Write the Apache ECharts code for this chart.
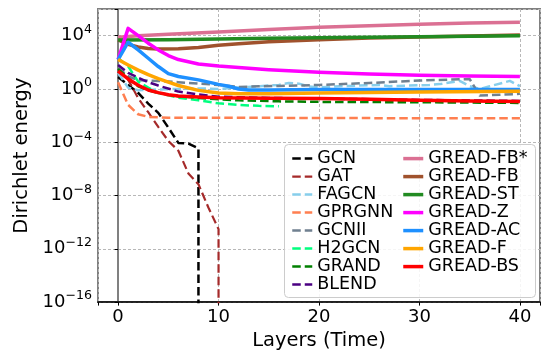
<!DOCTYPE html>
<html><head><meta charset="utf-8">
<script src="https://cdn.jsdelivr.net/npm/echarts@6/dist/echarts.min.js"></script>
<style>html,body{margin:0;padding:0;background:#fff}#c{width:543px;height:356px}</style>
</head><body><div id="c"></div>
<script>
// Dirichlet energy per layer, [layer, energy]; 1e-40 marks energy collapsing to zero
const GCN = [[0,8],[1,2],[2,0.5],[3,8e-2],[4,1.6e-2],[5,1.26e-3],[6,8.9e-5],[7,7.9e-5],[8,3.5e-5],[8,1e-40]];
const GAT = [[0,25],[1,5],[2,0.2],[3,1.8e-2],[4,1.4e-3],[5,1.26e-4],[6,2.3e-5],[7,4.5e-7],[8,7e-8],[9,1.2e-9],[10,3e-11],[10,1e-40]];
const FAGCN = [[0,16],[1,1.26],[2,0.8],[4,0.9],[6,1.0],[8,1.1],[10,1.0],[12,1.26],[14,1.6],[16,2.0],[17,2.8],[18,2.5],[19,1.5],[20,1.3],[22,1.6],[24,1.8],[26,2.0],[27,1.6],[29,1.8],[31,2.0],[32,2.3],[34,4.0],[35,1.6],[36,1.0],[37,1.6],[39,4.0],[40,1.6]];
const GPRGNN = [[0,3.2],[1,6.3e-2],[2,1.26e-2],[3,8e-3],[5,7e-3],[10,7e-3],[20,6.6e-3],[30,6.3e-3],[40,6.3e-3]];
const GCNII = [[0,40],[1,8.9],[2,4.5],[4,4.0],[6,3.2],[8,2.5],[10,2.0],[12,1.4],[14,1.6],[16,1.66],[20,2.0],[25,2.8],[30,4.3],[35,5.5],[36,0.32],[38,0.36],[40,0.43]];
const H2GCN = [[0,200],[1,50],[2,3.5],[3,1.26],[4,0.5],[6,0.22],[8,0.14],[10,8.3e-2],[12,6.3e-2],[14,5.4e-2],[16,5e-2]];
const GRAND = [[0,32],[1,6.3],[2,1.6],[3,0.8],[4,0.5],[6,0.28],[8,0.21],[10,0.166],[12,0.14],[16,0.117],[20,0.107],[30,0.1],[40,8.9e-2]];
const BLEND = [[0,63],[1,16],[2,7],[3,3.2],[4,1.8],[6,0.63],[8,0.38],[10,0.26],[15,0.21],[20,0.19],[30,0.15],[40,0.126]];
const GREAD_FBs = [[0,7.6e3],[2,1e4],[5,1.26e4],[10,1.9e4],[15,2.95e4],[20,4.2e4],[25,5.6e4],[30,7.1e4],[35,8.9e4],[40,1e5]];
const GREAD_FB = [[0,4.8e3],[1,2.2e3],[2,1.4e3],[3,1.1e3],[4,1e3],[6,1.05e3],[8,1.3e3],[10,1.9e3],[12,2.5e3],[15,3.5e3],[20,5e3],[25,6.6e3],[30,7.9e3],[35,9.3e3],[40,1.1e4]];
const GREAD_ST = [[0,4.8e3],[5,5e3],[10,5.6e3],[15,6.3e3],[20,6.9e3],[25,7.6e3],[30,8.3e3],[35,9.1e3],[40,1e4]];
const GREAD_Z = [[0,160],[1,3.5e4],[2,1e4],[3,2.7e3],[4,850],[5,320],[6,160],[8,75],[10,52],[12,40],[15,28],[20,18],[25,13],[30,10.7],[35,9.3],[40,8.7]];
const GREAD_AC = [[0,160],[1,3.2e3],[2,850],[3,200],[4,48],[5,14],[6,8.5],[8,4.8],[10,2.2],[11,1.6],[12,1.0],[13,0.83],[15,0.83],[20,0.9],[30,0.9],[40,0.9]];
const GREAD_F = [[0,160],[1,63],[2,26],[3,12],[4,6],[5,3.2],[6,1.8],[8,0.78],[10,0.5],[12,0.43],[15,0.43],[20,0.5],[30,0.58],[40,0.66]];
const GREAD_BS = [[0,22],[1,5.6],[2,1.9],[3,0.83],[4,0.53],[5,0.37],[6,0.3],[8,0.25],[10,0.22],[15,0.2],[20,0.19],[25,0.166],[30,0.14],[35,0.126],[40,0.112]];

const baselineNames = ['GCN','GAT','FAGCN','GPRGNN','GCNII','H2GCN','GRAND','BLEND'];
const greadNames = ['GREAD-FB*','GREAD-FB','GREAD-ST','GREAD-Z','GREAD-AC','GREAD-F','GREAD-BS'];
const xTicks = [0,10,20,30,40];
const yTickExps = [-16,-12,-8,-4,0,4];

const FONT = 'DejaVu Sans';
const DASH = [8.5,4];
function mk(name, data, color, dashed, width) {
  return {name, type:'line', data, symbol:'none', showSymbol:false, clip:true,
    lineStyle:{color, width, type: dashed ? DASH : 'solid', cap:'butt', join:'round'},
    itemStyle:{color}, emphasis:{disabled:true}, silent:true};
}
const series = [
  mk('GCN', GCN, '#000000', true, 2.5),
  mk('GAT', GAT, '#a52a2a', true, 2.2),
  mk('FAGCN', FAGCN, '#87ceeb', true, 2.5),
  mk('GPRGNN', GPRGNN, '#ff7f50', true, 2.5),
  mk('GCNII', GCNII, '#708090', true, 2.5),
  mk('H2GCN', H2GCN, '#00ff7f', true, 2.5),
  mk('GRAND', GRAND, '#008000', true, 2.5),
  mk('BLEND', BLEND, '#4b0082', true, 2.5),
  mk('GREAD-FB*', GREAD_FBs, '#db7093', false, 3.5),
  mk('GREAD-FB', GREAD_FB, '#a0522d', false, 3.5),
  mk('GREAD-ST', GREAD_ST, '#228b22', false, 3.5),
  mk('GREAD-Z', GREAD_Z, '#ff00ff', false, 3.5),
  mk('GREAD-AC', GREAD_AC, '#1e90ff', false, 3.5),
  mk('GREAD-F', GREAD_F, '#ffa500', false, 3.5),
  mk('GREAD-BS', GREAD_BS, '#ff0000', false, 3.5)
];
const legendCommon = {orient:'vertical', top:149.6, itemWidth:20, itemHeight:10, itemGap:0, padding:0,
  selectedMode:false, z:10,
  lineStyle:{width:'inherit'}, itemStyle:{opacity:0},
  textStyle:{fontFamily:FONT, fontSize:17.5, color:'#000', lineHeight:17.35}};

const chart = echarts.init(document.getElementById('c'), null, {renderer:'canvas'});
chart.setOption({
  animation:false,
  backgroundColor:'#fff',
  textStyle:{fontFamily:FONT},
  grid:{left:98, top:9, right:-1.6, bottom:48.7, show:true, borderColor:'#808080', borderWidth:2, backgroundColor:'transparent'},
  xAxis:{type:'value', min:-2, max:42, splitNumber:4, minInterval:10, maxInterval:10,
    name:'Layers (Time)', nameLocation:'middle', nameGap:27.5,
    nameTextStyle:{fontFamily:FONT, fontSize:19.5, color:'#000'},
    axisLine:{show:true, onZero:false, lineStyle:{color:'#000', width:1.7}},
    axisTick:{show:true, length:3.5, lineStyle:{color:'#000', width:1}},
    axisLabel:{fontFamily:FONT, fontSize:18, color:'#000', margin:6,
      formatter:v => xTicks.indexOf(v) >= 0 ? String(v) : ''},
    splitLine:{show:true, lineStyle:{color:'#b8b8b8', type:[3,2], width:1}}},
  yAxis:{type:'log', logBase:10, min:1e-16, max:1e6, interval:4,
    name:'Dirichlet energy', nameLocation:'middle', nameGap:66.5,
    nameTextStyle:{fontFamily:FONT, fontSize:19.5, color:'#000'},
    axisLine:{show:true, lineStyle:{color:'#808080', width:2}},
    axisTick:{show:true, length:3.5, lineStyle:{color:'#000', width:1}},
    minorTick:{show:false},
    axisLabel:{margin:6, formatter:function(v){
        const e = Math.round(Math.log10(v));
        if (yTickExps.indexOf(e) < 0) return '';
        return '{b|10}{s|' + (e < 0 ? '\u2212' + (-e) : String(e)) + '}';
      },
      rich:{b:{fontFamily:FONT, fontSize:18, color:'#000', lineHeight:25},
            s:{fontFamily:FONT, fontSize:12.6, color:'#000', lineHeight:13, verticalAlign:'top'}}},
    splitLine:{show:true, lineStyle:{color:'#b8b8b8', type:[3,2], width:1}}},
  legend:[
    Object.assign({}, legendCommon, {left:291, data:baselineNames}),
    Object.assign({}, legendCommon, {left:401.5, data:greadNames})
  ],
  graphic:[{type:'rect', left:284, top:144, z:5, silent:true,
    shape:{width:251, height:153, r:4},
    style:{fill:'rgba(255,255,255,0.85)', stroke:'#cccccc', lineWidth:1}}],
  series
});
</script></body></html>
